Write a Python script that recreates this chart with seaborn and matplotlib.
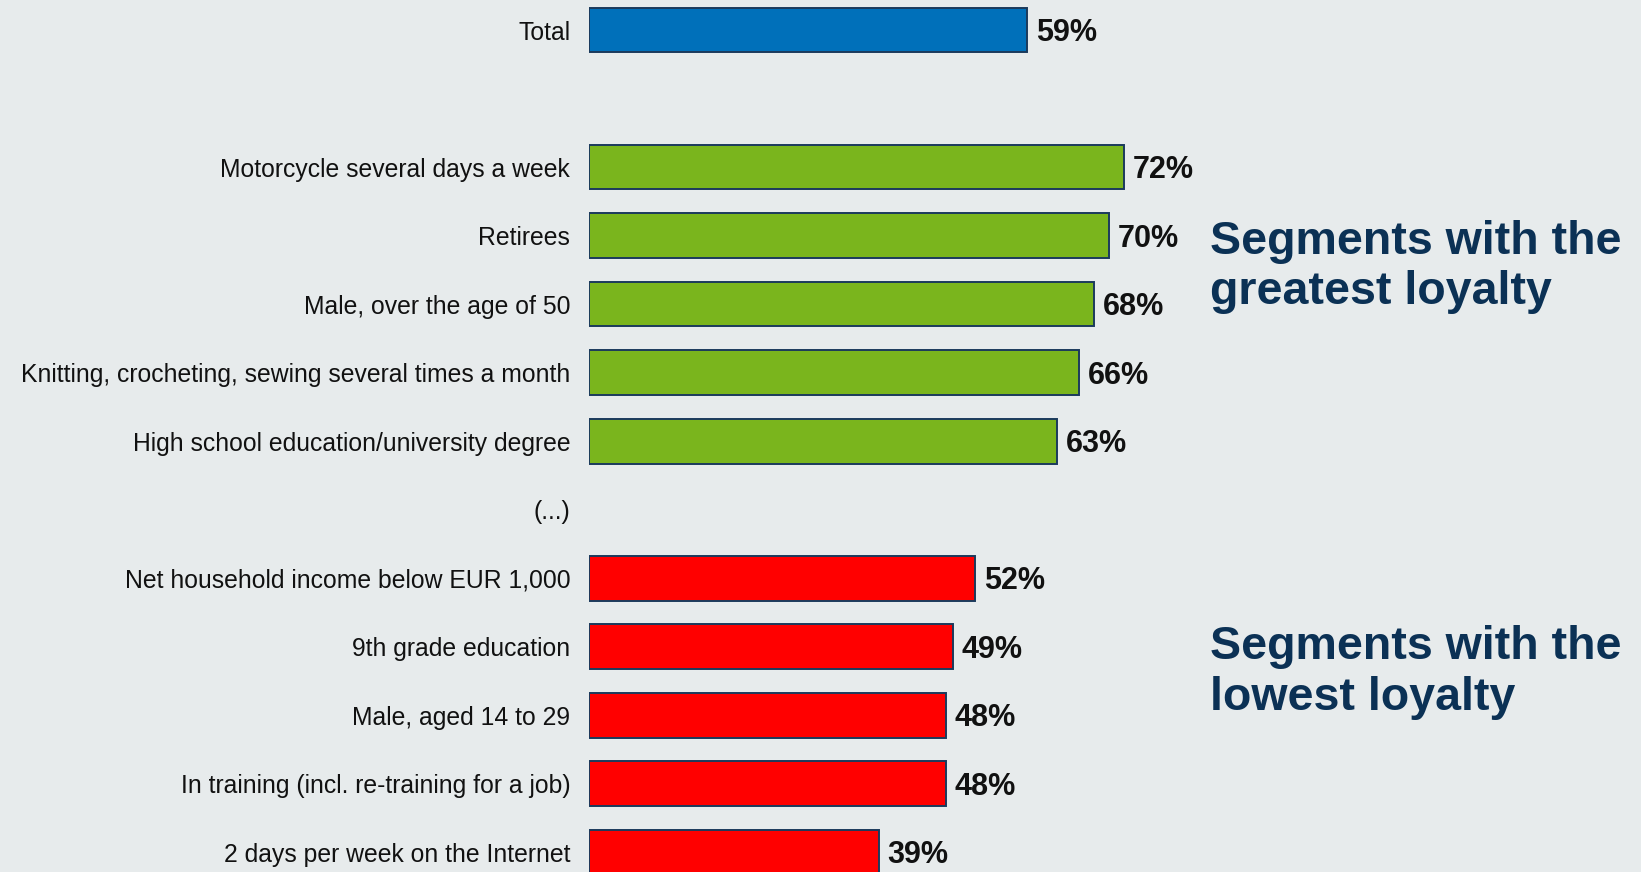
import matplotlib
matplotlib.use("Agg")
import matplotlib.pyplot as plt
import seaborn as sns
import pandas as pd

# Loyalty share by segment (%)
segments = [
    "Total",
    "Motorcycle several days a week",
    "Retirees",
    "Male, over the age of 50",
    "Knitting, crocheting, sewing several times a month",
    "High school education/university degree",
    "Net household income below EUR 1,000",
    "9th grade education",
    "Male, aged 14 to 29",
    "In training (incl. re-training for a job)",
    "2 days per week on the Internet",
]
values = [59, 72, 70, 68, 66, 63, 52, 49, 48, 48, 39]
groups = ["total", "high", "high", "high", "high", "high",
          "low", "low", "low", "low", "low"]

# Row order, including a blank spacer and an ellipsis row
order = (["Total", " "] + segments[1:6] + ["(...)"] + segments[6:])

palette = {"total": "#0070BA", "high": "#7AB51D", "low": "#FF0000"}
bg = "#E7EBEC"
edge = "#1B3A5C"
heading_color = "#0B3155"

df = pd.DataFrame({"segment": segments, "value": values, "group": groups})

sns.set_theme(style="white")
plt.rcParams["font.family"] = ["Liberation Sans", "DejaVu Sans"]

fig = plt.figure(figsize=(16.41, 8.72), dpi=100, facecolor=bg)
ax = fig.add_axes([589 / 1641, 0.0, 1 - 589 / 1641, 1.0])
ax.set_facecolor(bg)

sns.barplot(data=df, y="segment", x="value", hue="group", order=order,
            palette=palette, dodge=False, width=0.655, legend=False,
            edgecolor=edge, linewidth=1.4, saturation=1, ax=ax)

ax.set_xlim(0, 141.6)
ax.set_ylim(12.29, -0.438)
ax.set_xlabel("")
ax.set_ylabel("")
ax.set_xticks([])
ax.tick_params(axis="y", length=0, pad=13.5, labelsize=17.8, labelcolor="#111111")
for s in ax.spines.values():
    s.set_visible(False)

for seg, v in zip(segments, values):
    i = order.index(seg)
    ax.text(v + 1.2, i + 0.045, f"{v}%", va="center", ha="left",
            fontsize=22, fontweight="bold", color="#111111")

ax.text(83.6, 3.46, "Segments with the\ngreatest loyalty", va="center",
        ha="left", fontsize=33.5, fontweight="bold", color=heading_color,
        linespacing=1.2)
ax.text(83.6, 9.38, "Segments with the\nlowest loyalty", va="center",
        ha="left", fontsize=33.5, fontweight="bold", color=heading_color,
        linespacing=1.2)

fig.savefig("out.png", dpi=100, facecolor=bg)
